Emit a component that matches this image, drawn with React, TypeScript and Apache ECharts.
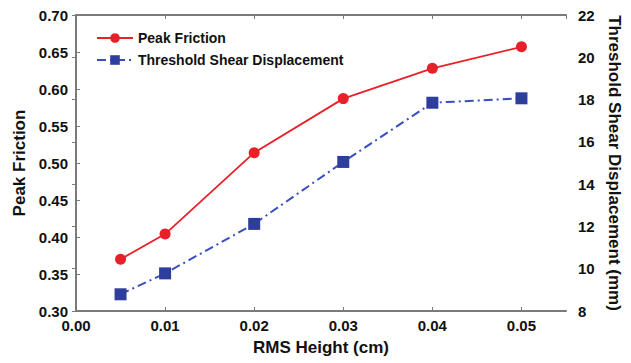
import React, { useEffect, useRef } from "react";
import * as echarts from "echarts";

const rmsHeight = [0.005, 0.01, 0.02, 0.03, 0.04, 0.05];
const peakFriction = [0.37, 0.404, 0.514, 0.587, 0.628, 0.657];
const thresholdShear = [8.79, 9.78, 12.12, 15.05, 17.85, 18.06];
const seriesNames = ["Peak Friction", "Threshold Shear Displacement"];

const FONT = "Liberation Sans, Arial, Helvetica, sans-serif";
const AXIS_COLOR = "#7a7a7a";

export default function App() {
  const ref = useRef<HTMLDivElement>(null);
  useEffect(() => {
    if (!ref.current) return;
    const chart = echarts.init(ref.current, undefined, { renderer: "svg" });
    const axisLine = { show: true, lineStyle: { color: AXIS_COLOR, width: 2 } };
    const axisTick = { show: true, inside: true, length: 4, lineStyle: { color: AXIS_COLOR, width: 1 } };
    const labelStyle = { color: "#111", fontFamily: FONT, fontWeight: "bold" as const, fontSize: 15 };
    const nameStyle = { color: "#111", fontFamily: FONT, fontWeight: "bold" as const, fontSize: 17 };
    chart.setOption({
      animation: false,
      backgroundColor: "#fff",
      grid: { left: 76, right: 64, top: 15, bottom: 52, containLabel: false },
      legend: {
        orient: "vertical",
        left: 91,
        top: 26,
        itemWidth: 36,
        itemHeight: 12,
        itemGap: 8,
        textStyle: { color: "#111", fontFamily: FONT, fontWeight: "bold", fontSize: 14 },
        data: seriesNames,
      },
      xAxis: [
        {
          type: "value",
          min: 0,
          max: 0.055,
          interval: 0.01,
          position: "bottom",
          name: "RMS Height (cm)",
          nameLocation: "middle",
          nameGap: 28,
          nameTextStyle: nameStyle,
          axisLine,
          axisTick,
          splitLine: { show: false },
          axisLabel: {
            ...labelStyle,
            margin: 7,
            showMaxLabel: false,
            formatter: (v: number) => (v > 0.0505 ? "" : v.toFixed(2)),
          },
        },
        {
          type: "value",
          min: 0,
          max: 0.055,
          interval: 0.01,
          position: "top",
          axisLine,
          axisTick,
          splitLine: { show: false },
          axisLabel: { show: false },
        },
      ],
      yAxis: [
        {
          type: "value",
          min: 0.3,
          max: 0.7,
          interval: 0.05,
          position: "left",
          name: "Peak Friction",
          nameLocation: "middle",
          nameGap: 43,
          nameTextStyle: nameStyle,
          axisLine,
          axisTick,
          splitLine: { show: false },
          axisLabel: { ...labelStyle, margin: 8, formatter: (v: number) => v.toFixed(2) },
        },
        {
          type: "value",
          min: 8,
          max: 22,
          interval: 2,
          position: "right",
          name: "Threshold Shear Displacement (mm)",
          nameLocation: "middle",
          nameRotate: -90,
          nameGap: 40,
          nameTextStyle: nameStyle,
          axisLine,
          axisTick,
          splitLine: { show: false },
          axisLabel: { ...labelStyle, margin: 12 },
        },
      ],
      series: [
        {
          name: seriesNames[0],
          type: "line",
          xAxisIndex: 0,
          yAxisIndex: 0,
          data: rmsHeight.map((x, i) => [x, peakFriction[i]]),
          symbol: "circle",
          symbolSize: 11,
          itemStyle: { color: "#e8202a" },
          lineStyle: { color: "#e8202a", width: 1.8 },
        },
        {
          name: seriesNames[1],
          type: "line",
          xAxisIndex: 0,
          yAxisIndex: 1,
          data: rmsHeight.map((x, i) => [x, thresholdShear[i]]),
          symbol: "rect",
          symbolSize: 12,
          itemStyle: { color: "#2e3e9c" },
          lineStyle: { color: "#3a4fbf", width: 2, type: [9, 4, 2, 4] },
        },
      ],
    });
    return () => chart.dispose();
  }, []);
  return (
    <div
      ref={ref}
      style={{ position: "fixed", left: 0, top: 0, width: 631, height: 363, background: "#fff" }}
    />
  );
}
